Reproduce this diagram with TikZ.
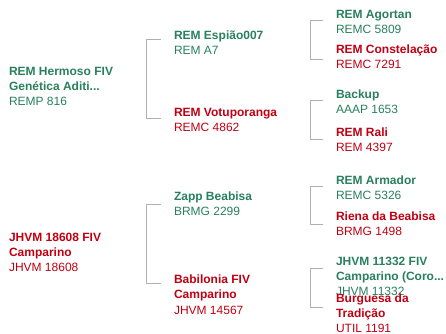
\documentclass[tikz,border=0pt]{standalone}
\usepackage{fontspec}
\setmainfont{Liberation Sans}
\usetikzlibrary{calc}
\definecolor{pgreen}{RGB}{40,128,92}
\definecolor{pred}{RGB}{192,0,18}
\definecolor{brk}{RGB}{176,176,176}
\tikzset{
  animal/.style={anchor=base west, inner sep=0pt, outer sep=0pt, align=left,
    font=\fontsize{12bp}{15.3bp}\selectfont},
  male/.style={animal, text=pgreen},
  female/.style={animal, text=pred},
  bracket/.style={draw=brk, line width=0.8bp}
}
\begin{document}
\begin{tikzpicture}[x=1bp,y=-1bp]
\useasboundingbox (0,0) rectangle (446,333);
% generation 1 (node position = baseline of last line)
\node[male]   (r1) at (9,105.9)  {\textbf{REM Hermoso FIV}\\\textbf{Genética Aditi...}\\REMP 816};
\node[female] (r2) at (9,271.9)  {\textbf{JHVM 18608 FIV}\\\textbf{Camparino}\\JHVM 18608};
% generation 2
\node[male]   (a1) at (174,54.3) {\textbf{REM Espião007}\\REM A7};
\node[female] (a2) at (174,131.6){\textbf{REM Votuporanga}\\REMC 4862};
\node[male]   (b1) at (174,215.6){\textbf{Zapp Beabisa}\\BRMG 2299};
\node[female] (b2) at (174,314.2){\textbf{Babilonia FIV}\\\textbf{Camparino}\\JHVM 14567};
% generation 3
\node[male]   (c1) at (336,33.9) {\textbf{REM Agortan}\\REMC 5809};
\node[female] (c2) at (336,68.9) {\textbf{REM Constelação}\\REMC 7291};
\node[male]   (c3) at (336,113.9){\textbf{Backup}\\AAAP 1653};
\node[female] (c4) at (336,151.3){\textbf{REM Rali}\\REM 4397};
\node[male]   (c5) at (336,199.6){\textbf{REM Armador}\\REMC 5326};
\node[female] (c6) at (336,235.6){\textbf{Riena da Beabisa}\\BRMG 1498};
\node[male]   (c7) at (336,295.9){\textbf{JHVM 11332 FIV}\\\textbf{Camparino (Coro...}\\JHVM 11332};
\node[female] (c8) at (336,332.6){\textbf{Burguesa da}\\\textbf{Tradição}\\UTIL 1191};
% brackets
\draw[bracket] ($(a1.base west)+(-13,-14.7)$) -- ++(-14.5,0) -- ($(a2.base west)+(-27.5,-13.3)$) -- ++(14.5,0);
\draw[bracket] ($(b1.base west)+(-13,-11.3)$) -- ++(-14.5,0) -- ($(b2.base west)+(-27.5,-30.9)$) -- ++(14.5,0);
\draw[bracket] ($(c1.base west)+(-13,-13.1)$) -- ++(-13,0) -- ($(c2.base west)+(-26,-9.7)$) -- ++(13,0);
\draw[bracket] ($(c3.base west)+(-13,-13.7)$) -- ++(-13,0) -- ($(c4.base west)+(-26,-12.3)$) -- ++(13,0);
\draw[bracket] ($(c5.base west)+(-13,-13.6)$) -- ++(-13,0) -- ($(c6.base west)+(-26,-11.6)$) -- ++(13,0);
\draw[bracket] ($(c7.base west)+(-13,-27.9)$) -- ++(-13,0) -- ($(c8.base west)+(-26,-25.6)$) -- ++(13,0);
\end{tikzpicture}
\end{document}
